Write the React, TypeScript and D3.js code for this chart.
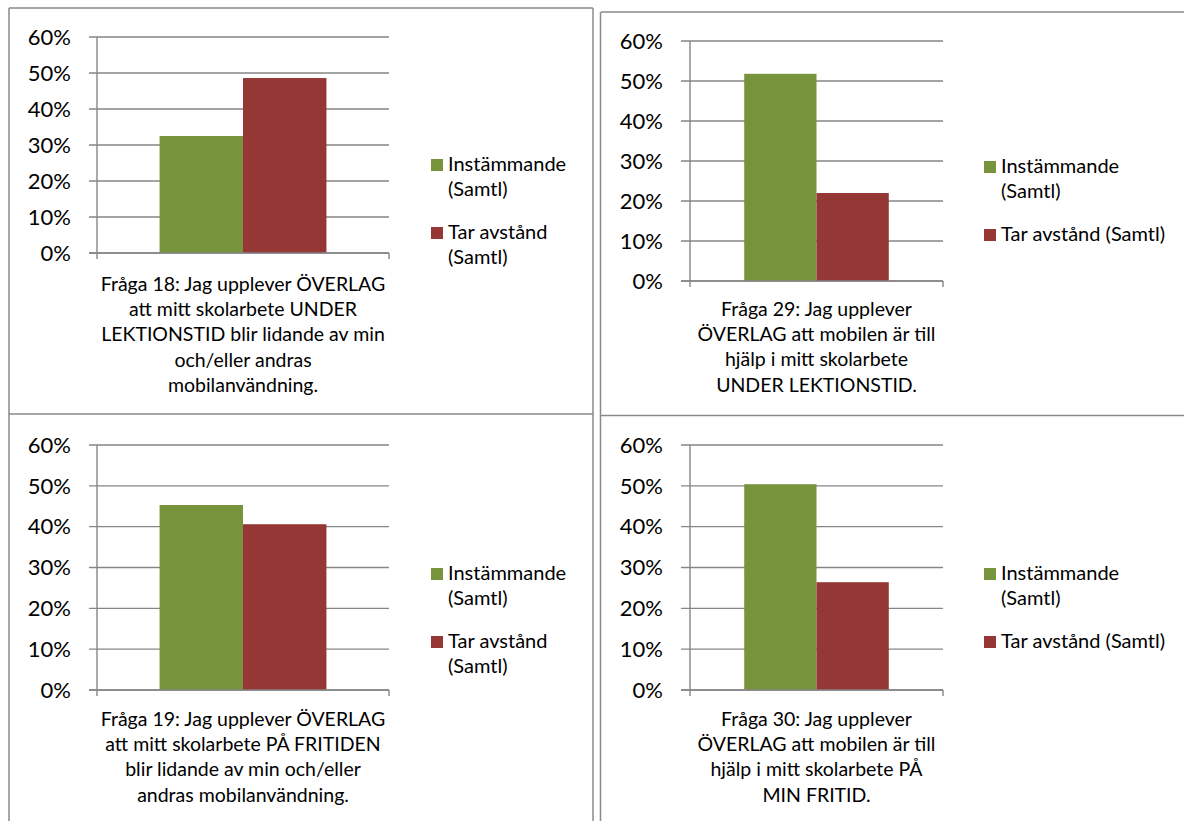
import React from "react";
import * as d3 from "d3";

// ---- data ----
const seriesKeys = ["Instämmande (Samtl)", "Tar avstånd (Samtl)"];
const seriesColors = ["#77933C", "#953735"];
const instammande = [0.325, 0.518, 0.453, 0.504];
const tarAvstand = [0.486, 0.22, 0.406, 0.264];
const yTicks = [0, 0.1, 0.2, 0.3, 0.4, 0.5, 0.6];
const categoryLines = [
  ["Fråga 18: Jag upplever ÖVERLAG", "att mitt skolarbete UNDER", "LEKTIONSTID blir lidande av min", "och/eller andras", "mobilanvändning."],
  ["Fråga 29: Jag upplever", "ÖVERLAG att mobilen är till", "hjälp i mitt skolarbete", "UNDER LEKTIONSTID."],
  ["Fråga 19: Jag upplever ÖVERLAG", "att mitt skolarbete PÅ FRITIDEN", "blir lidande av min och/eller", "andras mobilanvändning."],
  ["Fråga 30: Jag upplever", "ÖVERLAG att mobilen är till", "hjälp i mitt skolarbete PÅ", "MIN FRITID."],
];
const legendNarrow = [["Instämmande", "(Samtl)"], ["Tar avstånd", "(Samtl)"]];
const legendWide = [["Instämmande", "(Samtl)"], ["Tar avstånd (Samtl)"]];

// ---- layout ----
const layouts = [
  { x0: 97, x1: 389, tickX: 89, yTop: 37, yBot: 253, labelRight: 71, catBase: 291, legX: 431, legY: 159, legend: legendNarrow },
  { x0: 690, x1: 943, tickX: 681, yTop: 41, yBot: 281, labelRight: 663, catBase: 316, legX: 984, legY: 161, legend: legendWide },
  { x0: 97, x1: 389, tickX: 89, yTop: 445, yBot: 690, labelRight: 71, catBase: 726, legX: 431, legY: 568, legend: legendNarrow },
  { x0: 690, x1: 943, tickX: 681, yTop: 445, yBot: 690, labelRight: 663, catBase: 726, legX: 984, legY: 568, legend: legendWide },
];

const FONT = "Lato, 'Open Sans', sans-serif";
const GRID = "#868686";
const BORDER = "#8a8a8a";

function Panel({ i }: { i: number }) {
  const L = layouts[i];
  const y = d3.scaleLinear().domain([0, 0.6]).range([L.yBot, L.yTop]);
  const xCat = d3.scaleBand().domain(["c"]).range([L.x0, L.x1]).paddingInner(0).paddingOuter(0.375);
  const xSer = d3.scaleBand().domain(seriesKeys).range([0, xCat.bandwidth()]).padding(0);
  const vals = [instammande[i], tarAvstand[i]];
  const cx = (L.x0 + L.x1) / 2;
  return (
    <g>
      {yTicks.map((t) => (
        <g key={t}>
          <line x1={L.tickX} x2={L.x1} y1={y(t)} y2={y(t)} stroke={GRID} strokeWidth={1.4} />
          <text x={L.labelRight} y={y(t) + 7.8} textAnchor="end" fontFamily={FONT} fontSize={22} fill="#000">
            {d3.format(".0%")(t)}
          </text>
        </g>
      ))}
      <line x1={L.x0} x2={L.x0} y1={L.yTop} y2={L.yBot + 6} stroke={GRID} strokeWidth={1.4} />
      <line x1={L.x1} x2={L.x1} y1={L.yBot} y2={L.yBot + 6} stroke={GRID} strokeWidth={1.4} />
      {seriesKeys.map((k, j) => (
        <rect
          key={k}
          x={(xCat("c") as number) + (xSer(k) as number)}
          width={xSer.bandwidth()}
          y={y(vals[j])}
          height={y(0) - y(vals[j])}
          fill={seriesColors[j]}
        />
      ))}
      <line x1={L.tickX} x2={L.x1} y1={y(0)} y2={y(0)} stroke={GRID} strokeWidth={1.4} />
      {categoryLines[i].map((ln, k) => (
        <text key={k} x={cx} y={L.catBase + k * 25.2} textAnchor="middle" fontFamily={FONT} fontSize={19.5} fill="#000">
          {ln}
        </text>
      ))}
      {L.legend.map((lines, j) => (
        <g key={j}>
          <rect x={L.legX} y={L.legY + j * 68} width={12} height={12} fill={seriesColors[j]} />
          {lines.map((ln, k) => (
            <text key={k} x={L.legX + 17} y={L.legY + j * 68 + 12 + k * 25} fontFamily={FONT} fontSize={20} fill="#000">
              {ln}
            </text>
          ))}
        </g>
      ))}
    </g>
  );
}

export default function App() {
  return (
    <svg width={1184} height={821} style={{ position: "absolute", left: 0, top: 0, background: "#fff" }}>
      <rect x={0} y={0} width={1184} height={821} fill="#fff" />
      {/* table borders */}
      <g stroke={BORDER} strokeWidth={1.5} fill="none">
        <line x1={9} x2={593} y1={8} y2={8} />
        <line x1={601} x2={1190} y1={12} y2={12} />
        <line x1={9} x2={9} y1={8} y2={830} />
        <line x1={593} x2={593} y1={8} y2={830} />
        <line x1={600.5} x2={600.5} y1={12} y2={830} />
        <line x1={9} x2={593} y1={414} y2={414} />
        <line x1={600} x2={1190} y1={415.5} y2={415.5} />
      </g>
      {layouts.map((_, i) => (
        <Panel key={i} i={i} />
      ))}
    </svg>
  );
}
